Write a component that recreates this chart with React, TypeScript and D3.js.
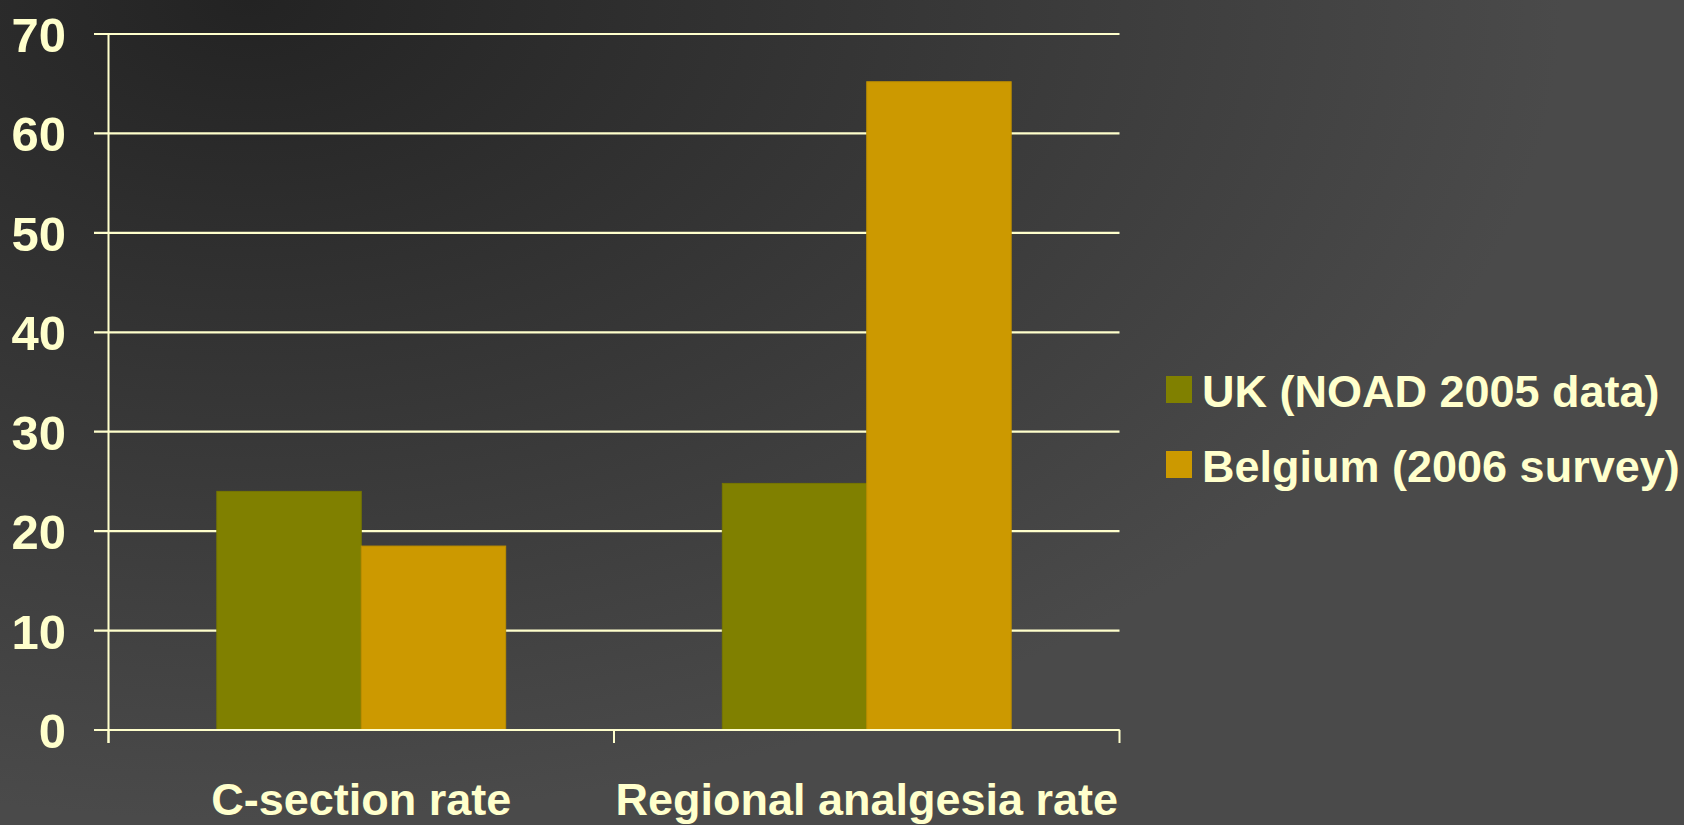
import React from "react";
import * as d3 from "d3";

const categories = ["C-section rate", "Regional analgesia rate"];
const seriesNames = ["UK (NOAD 2005 data)", "Belgium (2006 survey)"];
const ukValues = [24.0, 24.8];
const belgiumValues = [18.5, 65.2];
const seriesColors = ["#808000", "#CC9900"];
const seriesStroke = ["#767600", "#bd8e00"];
const yTicks = [0, 10, 20, 30, 40, 50, 60, 70];

const W = 1684;
const H = 825;
const TEXT = "#FFFFCC";
const FONT = "'Liberation Sans', Arial, sans-serif";

export default function App() {
  const plotLeft = 108.5;
  const plotRight = 1119.5;
  const yScale = d3.scaleLinear().domain([0, 70]).range([730, 34]);
  const x0 = d3.scaleBand<string>().domain(categories).range([plotLeft, plotRight]).paddingInner(0).paddingOuter(0);
  const x1 = d3
    .scaleBand<string>()
    .domain(seriesNames)
    .range([0, x0.bandwidth()])
    .paddingInner(0)
    .paddingOuter(0.75);
  const values = [ukValues, belgiumValues];
  const xTickPositions = [plotLeft, ...categories.map((c) => (x0(c) as number) + x0.bandwidth())];

  return (
    <svg
      width={W}
      height={H}
      style={{ position: "absolute", left: 0, top: 0, display: "block" }}
    >
      <defs>
        <radialGradient
          id="bg"
          gradientUnits="userSpaceOnUse"
          cx={250}
          cy={0}
          r={820}
          gradientTransform="translate(250,0) scale(1.6,1) translate(-250,0)"
        >
          <stop offset="0" stopColor="#232323" />
          <stop offset="1" stopColor="#4a4a4a" />
        </radialGradient>
      </defs>
      <rect x={0} y={0} width={W} height={H} fill="url(#bg)" />

      {/* gridlines */}
      {yTicks.map((t) => (
        <line
          key={"g" + t}
          x1={94}
          x2={plotRight}
          y1={yScale(t)}
          y2={yScale(t)}
          stroke={TEXT}
          strokeWidth={2.2}
        />
      ))}
      {/* y axis */}
      <line x1={plotLeft} x2={plotLeft} y1={yScale(70)} y2={743} stroke={TEXT} strokeWidth={2} />
      {/* x ticks */}
      {xTickPositions.map((xp, i) => (
        <line key={"xt" + i} x1={xp} x2={xp} y1={yScale(0)} y2={743} stroke={TEXT} strokeWidth={2} />
      ))}

      {/* bars */}
      {categories.map((c, ci) =>
        seriesNames.map((s, si) => {
          const v = values[si][ci];
          const x = (x0(c) as number) + (x1(s) as number);
          return (
            <rect
              key={c + s}
              x={x}
              y={yScale(v)}
              width={x1.bandwidth()}
              height={yScale(0) - yScale(v)}
              fill={seriesColors[si]}
              stroke={seriesStroke[si]}
              strokeWidth={1}
            />
          );
        })
      )}
      {/* baseline over bars */}
      <line x1={94} x2={plotRight} y1={yScale(0)} y2={yScale(0)} stroke={TEXT} strokeWidth={2.2} />

      {/* y labels */}
      {yTicks.map((t) => (
        <text
          key={"yl" + t}
          x={66}
          y={yScale(t) + 18}
          textAnchor="end"
          fill={TEXT}
          fontFamily={FONT}
          fontWeight="bold"
          fontSize={49}
        >
          {t}
        </text>
      ))}

      {/* category labels */}
      {categories.map((c) => (
        <text
          key={"cl" + c}
          x={(x0(c) as number) + x0.bandwidth() / 2}
          y={815}
          textAnchor="middle"
          fill={TEXT}
          fontFamily={FONT}
          fontWeight="bold"
          fontSize={45}
        >
          {c}
        </text>
      ))}

      {/* legend */}
      {seriesNames.map((s, i) => (
        <g key={"lg" + s} transform={`translate(1166, ${376 + i * 75})`}>
          <rect x={0} y={0} width={26} height={27} fill={seriesColors[i]} />
          <text
            x={36}
            y={31}
            fill={TEXT}
            fontFamily={FONT}
            fontWeight="bold"
            fontSize={45}
          >
            {s}
          </text>
        </g>
      ))}
    </svg>
  );
}
